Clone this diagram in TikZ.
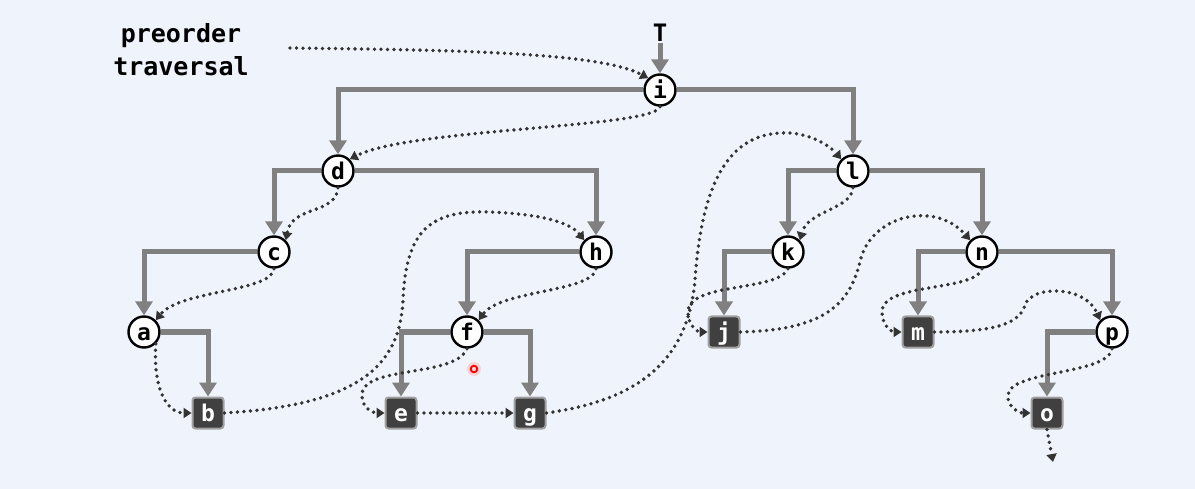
\documentclass[tikz,border=0pt]{standalone}
\usepackage{fontspec}
\usetikzlibrary{arrows.meta}
\newfontfamily\codefont{DejaVu Sans Mono}
\definecolor{bg}{HTML}{EFF4FC}
\definecolor{edge}{HTML}{808080}
\definecolor{dots}{HTML}{333333}
\definecolor{leaf}{HTML}{404040}
\definecolor{leafrim}{HTML}{A0A0A0}
\begin{document}
\begin{tikzpicture}[x=1pt,y=-1pt,
  inner/.style={circle,draw=black,line width=2.4pt,fill=white,minimum size=31pt,inner sep=0pt,
    text height=16.5pt,text depth=0pt,font=\codefont\bfseries\fontsize{23}{23}\selectfont},
  leafnode/.style={rectangle,rounded corners=3pt,draw=leafrim,line width=2pt,fill=leaf,text=white,
    minimum size=31pt,inner sep=0pt,text height=16.5pt,text depth=0pt,
    font=\codefont\bfseries\fontsize{23}{23}\selectfont},
  caption/.style={font=\codefont\bfseries\fontsize{25}{33}\selectfont,align=center},
  tree/.style={draw=edge,line width=5pt,-{Triangle[width=17pt,length=14pt]}},
  trav/.style={draw=dots,line width=3.8pt,line cap=round,dash pattern=on 0pt off 6.5pt,
    -{Triangle[width=10pt,length=8pt]}},
]
% background
\fill[bg] (0,0) rectangle (1195,489);

% labels
\node[caption] (title) at (181,50) {preorder\\traversal};
\node[font=\codefont\bfseries\fontsize{24}{24}\selectfont,inner sep=1pt] (T) at (660,33) {T};

% inner nodes
\node[inner] (i) at (660,90) {i};
\node[inner] (d) at (338,171) {d};
\node[inner] (l) at (853,171) {l};
\node[inner] (c) at (274,252) {c};
\node[inner] (h) at (596,252) {h};
\node[inner] (k) at (788,252) {k};
\node[inner] (n) at (982,252) {n};
\node[inner] (a) at (144,332) {a};
\node[inner] (f) at (467,332) {f};
\node[inner] (p) at (1112,332) {p};

% leaves
\node[leafnode] (j) at (724,332) {j};
\node[leafnode] (m) at (918,332) {m};
\node[leafnode] (b) at (208,413) {b};
\node[leafnode] (e) at (401,413) {e};
\node[leafnode] (g) at (530,413) {g};
\node[leafnode] (o) at (1047,413) {o};

% tree links
\draw[tree] (T) -- (i);
\draw[tree] (i) -| (d);
\draw[tree] (i) -| (l);
\draw[tree] (d) -| (c);
\draw[tree] (d) -| (h);
\draw[tree] (c) -| (a);
\draw[tree] (a) -| (b);
\draw[tree] (h) -| (f);
\draw[tree] (f) -| (e);
\draw[tree] (f) -| (g);
\draw[tree] (l) -| (k);
\draw[tree] (l) -| (n);
\draw[tree] (k) -| (j);
\draw[tree] (n) -| (m);
\draw[tree] (n) -| (p);
\draw[tree] (p) -| (o);

% preorder walk
\coordinate (start) at (290,48);
\coordinate (finish) at (1053,462);
\draw[trav] (start) .. controls (450,50) and (600,52) .. (i.north west);
\draw[trav] (i.south) .. controls (655,128) and (410,128) .. (d.north east);
\draw[trav] (d.south) .. controls (336,215) and (292,205) .. (c.north east);
\draw[trav] (c.south) .. controls (272,292) and (180,290) .. (a.north east);
\draw[trav] (a.south east) .. controls (153,385) and (165,413) .. (b.west);
\draw[trav] (b.east) .. controls (360,405) and (400,365) .. (403,300)
  .. controls (406,230) and (430,210) .. (490,212)
  .. controls (540,214) and (570,222) .. (h.north west);
\draw[trav] (h.south) .. controls (593,292) and (500,290) .. (f.north east);
\draw[trav] (f.south) .. controls (455,378) and (362,365) .. (362,395)
  .. controls (362,410) and (375,413) .. (e.west);
\draw[trav] (e.east) -- (g.west);
\draw[trav] (g.east) .. controls (640,400) and (688,360) .. (695,280)
  .. controls (702,180) and (730,130) .. (790,133)
  .. controls (815,135) and (832,148) .. (l.north west);
\draw[trav] (l.south) .. controls (851,210) and (808,210) .. (k.north east);
\draw[trav] (k.south) .. controls (778,292) and (688,282) .. (688,312)
  .. controls (688,326) and (698,332) .. (j.west);
\draw[trav] (j.east) .. controls (830,330) and (850,300) .. (860,262)
  .. controls (870,215) and (935,200) .. (n.north west);
\draw[trav] (n.south) .. controls (975,292) and (882,282) .. (882,312)
  .. controls (882,326) and (892,332) .. (m.west);
\draw[trav] (m.east) .. controls (1000,332) and (1020,322) .. (1025,305)
  .. controls (1032,285) and (1085,285) .. (p.north west);
\draw[trav] (p.south) .. controls (1108,375) and (1010,370) .. (1008,395)
  .. controls (1007,408) and (1020,413) .. (o.west);
\draw[trav] (o.south) -- (finish);

% pointer mark
\fill[red!30,opacity=0.5] (474,369) circle (7);
\draw[red,line width=1.8pt] (474,369) circle (3.3);
\end{tikzpicture}
\end{document}
